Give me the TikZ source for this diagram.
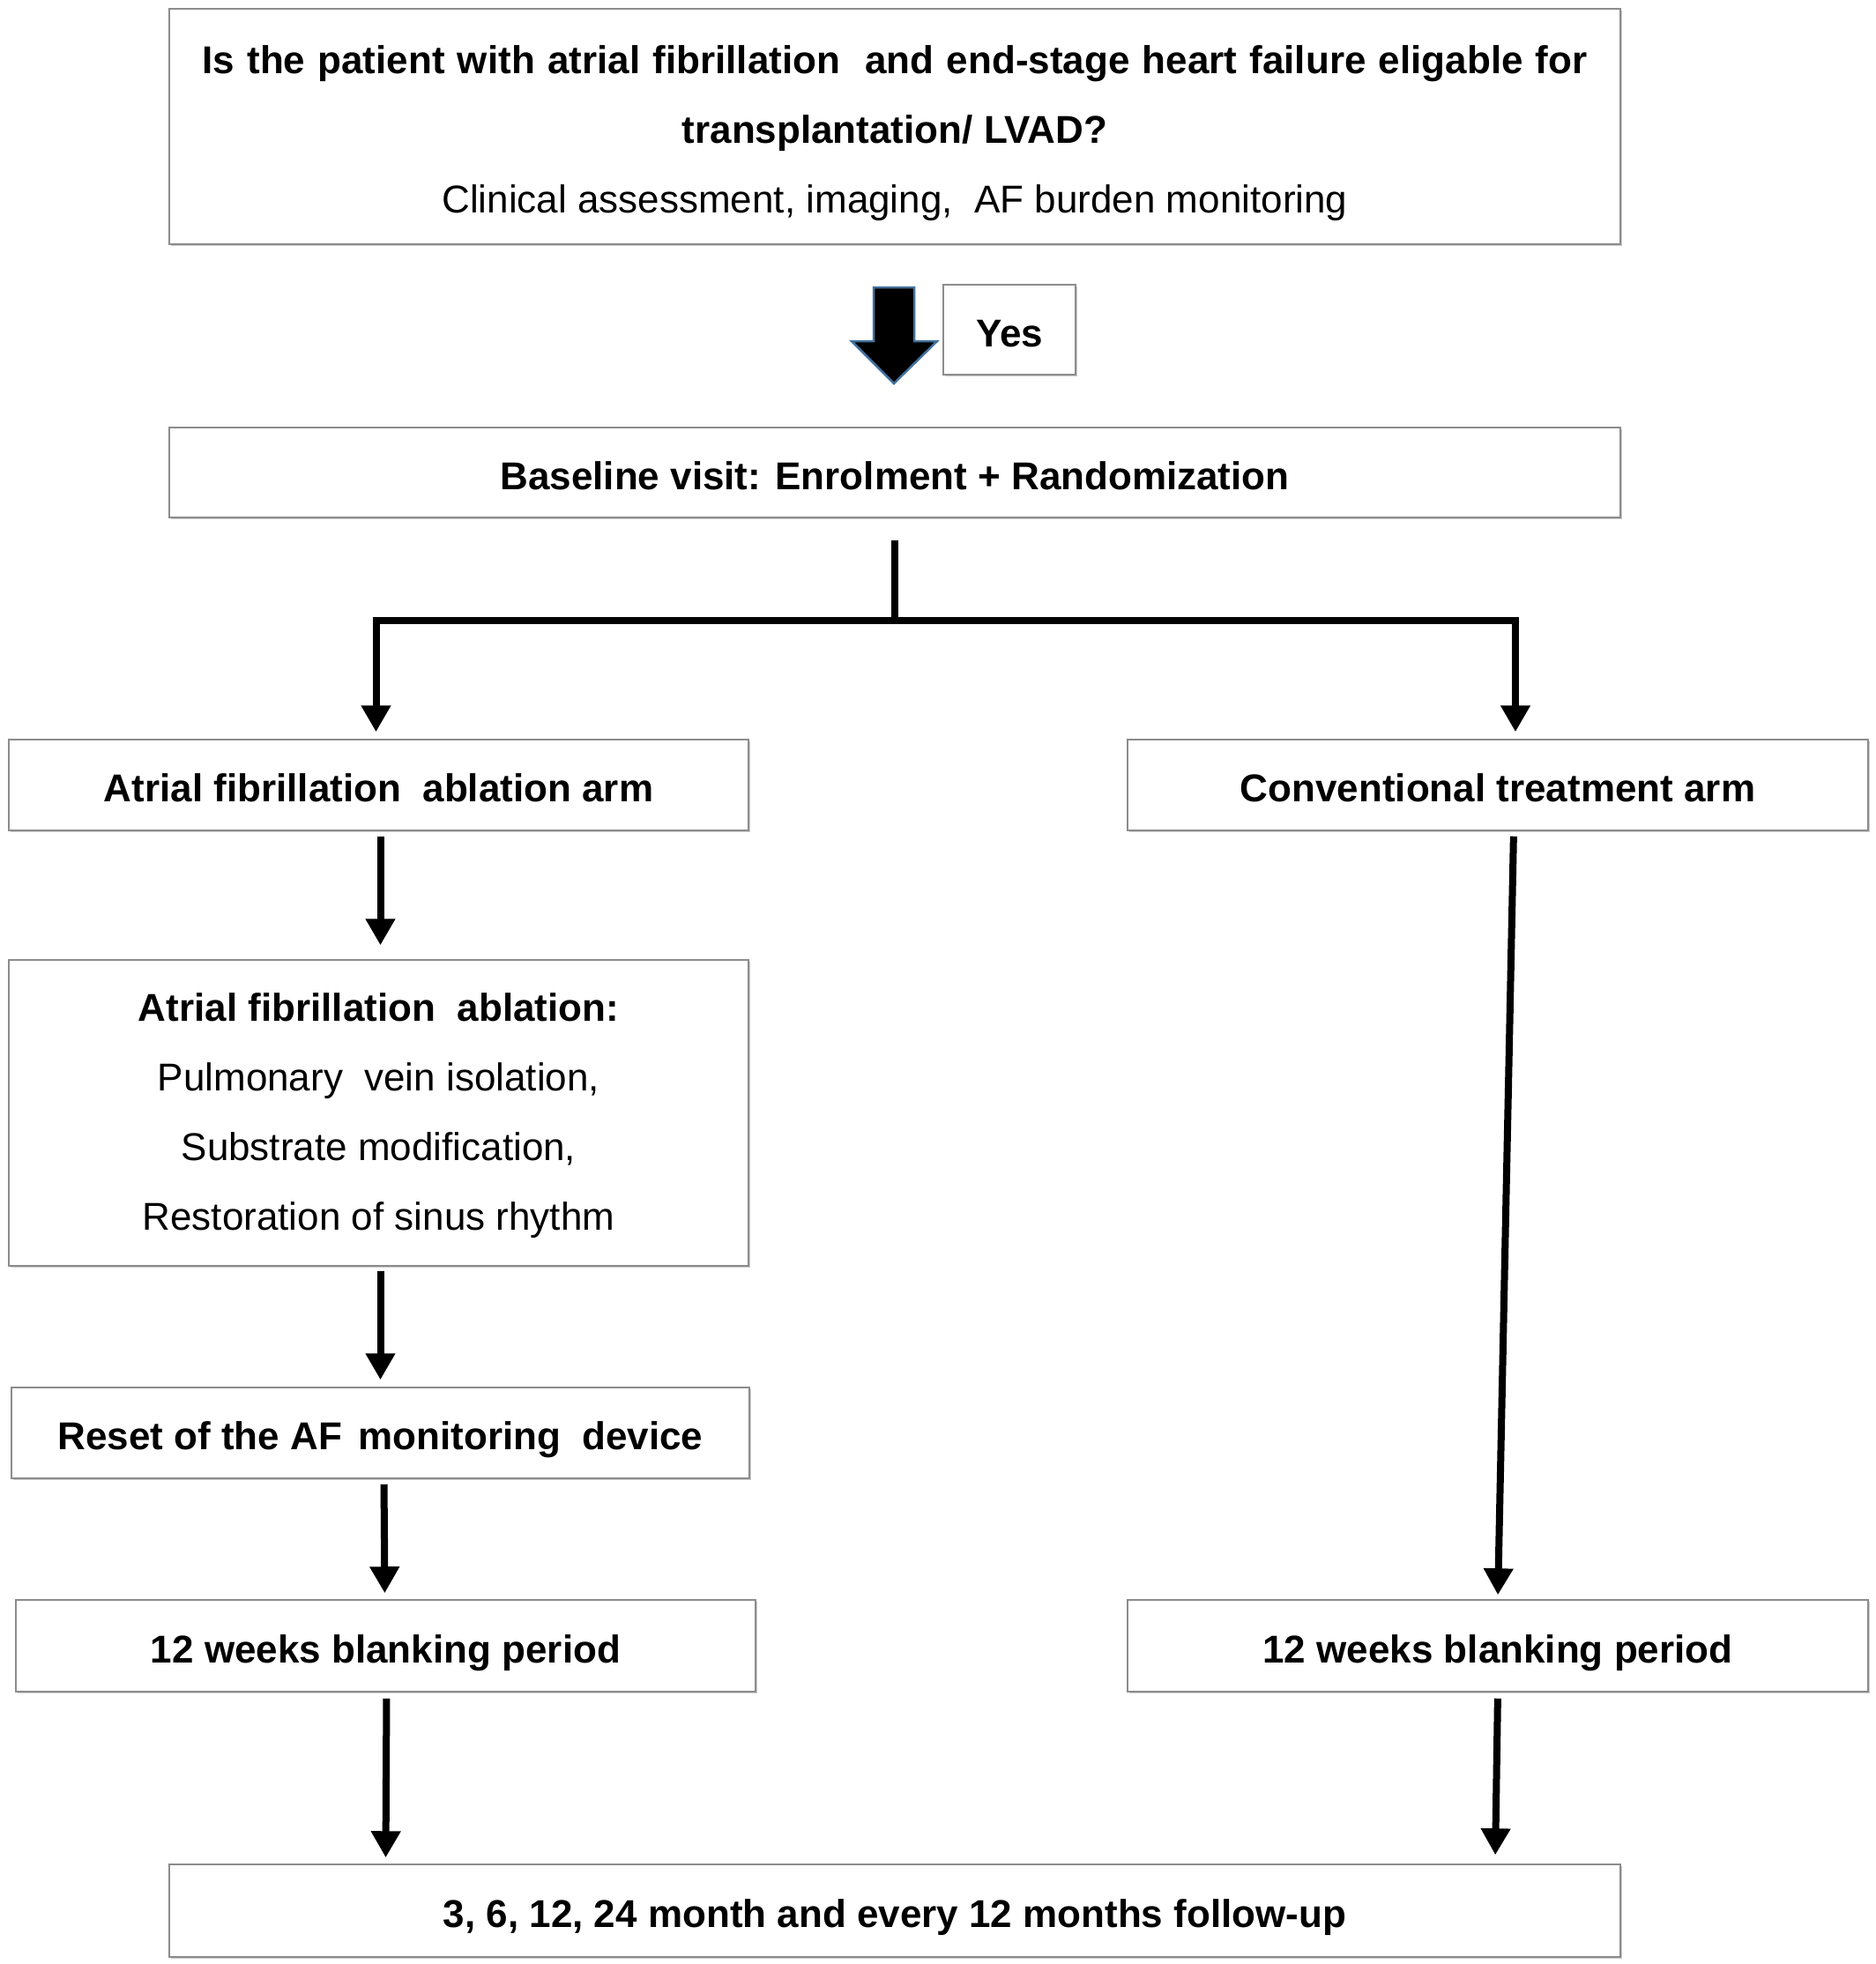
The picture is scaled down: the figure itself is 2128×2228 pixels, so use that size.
\documentclass[tikz,border=0pt]{standalone}
\usepackage{fontspec}
\setmainfont{Liberation Sans}
\usetikzlibrary{arrows.meta,shadows}
\definecolor{arrowblue}{HTML}{41719C}
\begin{document}
\begin{tikzpicture}[x=1pt,y=-1pt,
  box/.style={draw=black!45, line width=1.5pt, fill=white, inner sep=0pt, align=center,
    font=\fontsize{44}{79}\selectfont,
    drop shadow={shadow xshift=2pt, shadow yshift=-2pt, opacity=0.35, fill=black!60}},
  onebox/.style={box, text height=38pt, text depth=0pt},
  conn/.style={line width=8pt, draw=black},
  arr/.style={conn, -{Triangle[width=32pt,length=30pt]}},
]
\useasboundingbox (0,0) rectangle (2128,2228);

\node[box, minimum width=1646pt, minimum height=267pt] (q) at (1015,143.5)
  {\bfseries\rule{0pt}{48pt}\makebox[1571pt][s]{Is the patient with atrial fibrillation\ \ and end-stage heart failure eligable for}\\
   \bfseries transplantation/ LVAD?\\
   \mdseries Clinical assessment, imaging,\ \ AF burden monitoring};

\draw[draw=arrowblue, line width=2.5pt, fill=black, line join=miter]
  (991,326) -- (1037,326) -- (1037,387) -- (1063,387) -- (1014,435) -- (966,387) -- (991,387) -- cycle;

\node[onebox, minimum width=150pt, minimum height=102pt] (yes) at (1145,374) {\bfseries Yes};

\node[onebox, minimum width=1646pt, minimum height=102pt] (base) at (1015,536)
  {\bfseries Baseline visit: Enrolment + Randomization};

\node[onebox, minimum width=839pt, minimum height=103pt] (armA) at (429.5,890.5)
  {\bfseries Atrial fibrillation\ \ ablation arm};
\node[onebox, minimum width=840pt, minimum height=103pt] (conv) at (1699,890.5)
  {\bfseries Conventional treatment arm};

\node[box, minimum width=839pt, minimum height=347pt] (abl) at (429.5,1262.5)
  {\bfseries\rule{0pt}{39pt}Atrial fibrillation\ \ ablation:\\
   \mdseries Pulmonary\ \ vein isolation,\\
   Substrate modification,\\
   Restoration of sinus rhythm};

\node[onebox, minimum width=837pt, minimum height=103pt] (reset) at (431.5,1625.5)
  {\bfseries Reset of the AF\hspace{6pt} monitoring\hspace{12pt} device};

\node[onebox, minimum width=839pt, minimum height=104pt] (wkA) at (437.5,1867)
  {\bfseries 12 weeks blanking period};
\node[onebox, minimum width=840pt, minimum height=104pt] (wkB) at (1699,1867)
  {\bfseries 12 weeks blanking period};

\node[onebox, minimum width=1646pt, minimum height=105pt] (fu) at (1015,2167.5)
  {\bfseries 3, 6, 12, 24 month and every 12 months follow-up};

\coordinate (split) at (1015,704);
\draw[conn] ([yshift=-25pt]base.south) -- (split);
\draw[arr, shorten >=8pt] (split) -| ([xshift=-3pt]armA.north);
\draw[arr, shorten >=8pt] (split) -| ([xshift=20pt]conv.north);

\draw[arr, shorten <=6pt, shorten >=16pt] ([xshift=2pt]armA.south) -- ([xshift=2pt]abl.north);
\draw[arr, shorten <=5pt, shorten >=8pt] ([xshift=2pt]abl.south) -- ([xshift=0pt]reset.north);
\draw[arr, shorten <=6pt, shorten >=7pt] ([xshift=4pt]reset.south) -- ([xshift=-1pt]wkA.north);
\draw[arr, shorten <=7pt, shorten >=7pt] ([xshift=1pt]wkA.south) -- (wkA.south |- fu.north);

\draw[arr, shorten <=6pt, shorten >=5pt] ([xshift=18pt]conv.south) -- (wkB.north);
\draw[arr, shorten <=7pt, shorten >=10pt] (wkB.south) -- ([xshift=-3pt]wkB.south |- fu.north);
\end{tikzpicture}
\end{document}
